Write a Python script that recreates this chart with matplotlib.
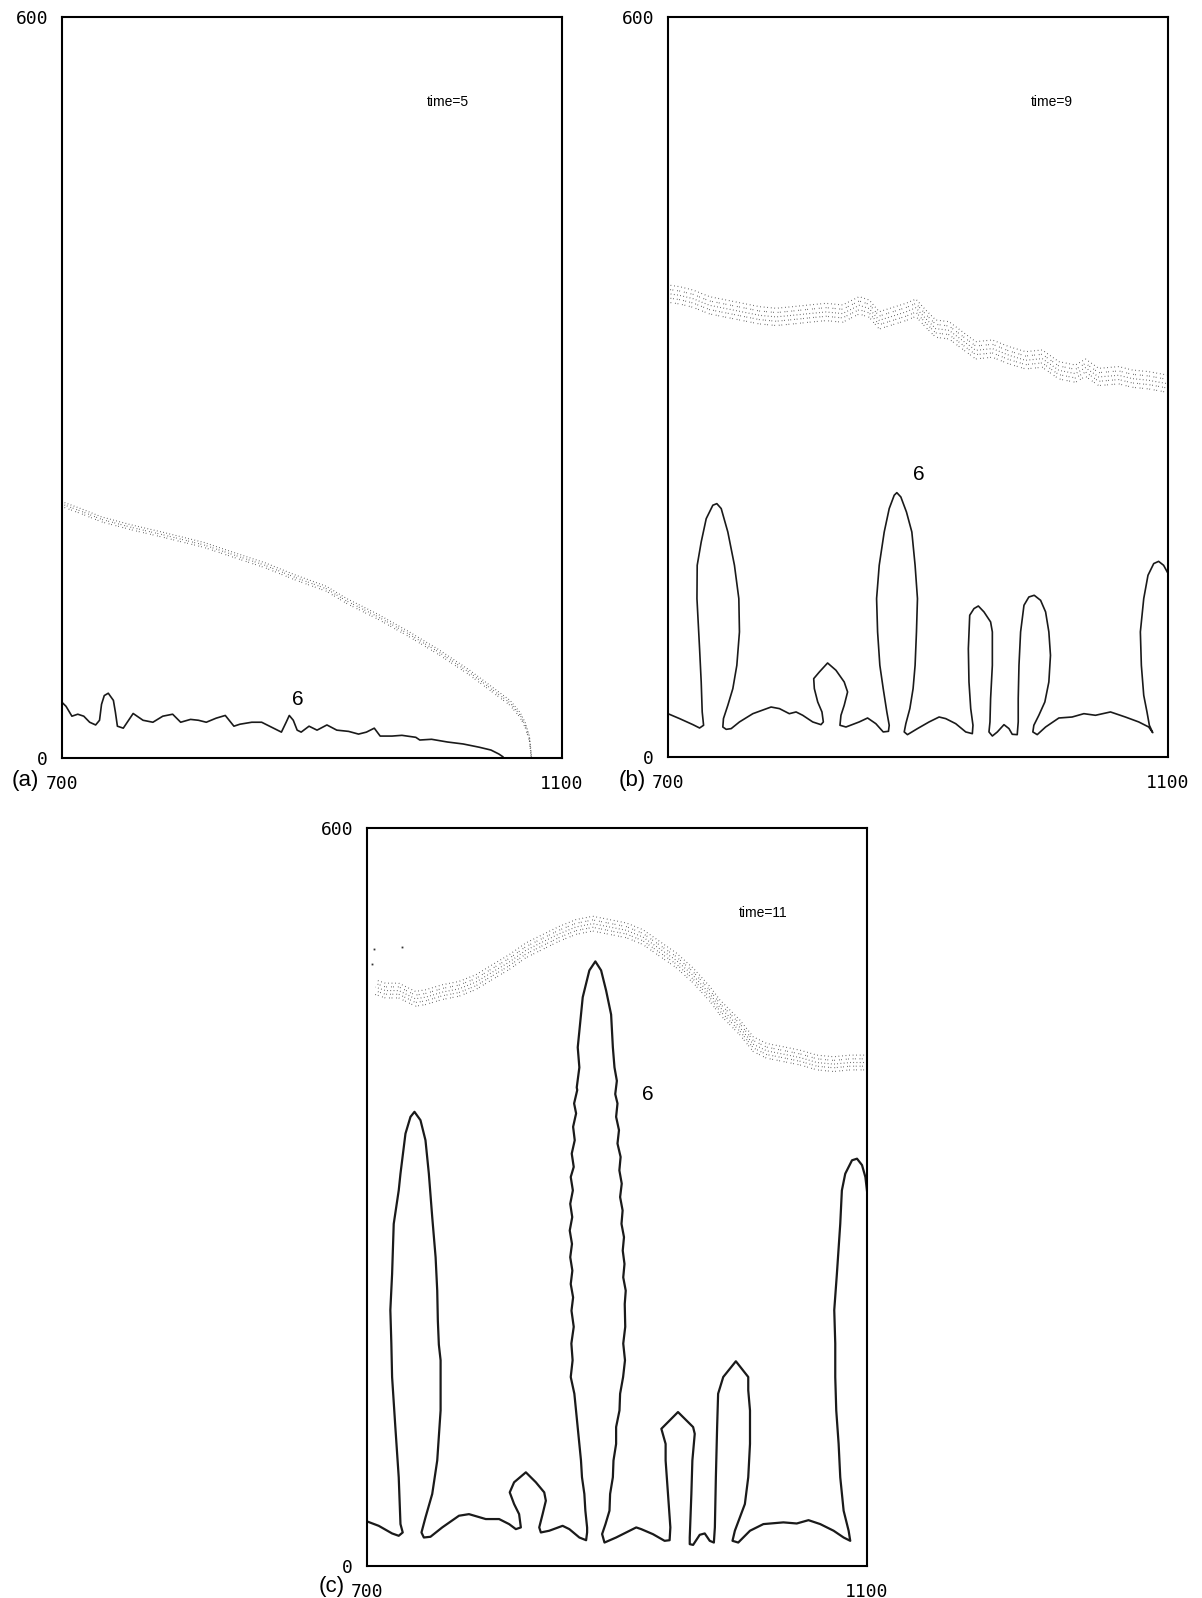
import numpy as np
import matplotlib.pyplot as plt

# ---- panel (a), time=5 ----
a_front_x = [700, 715.5, 731.8, 756.3, 780.8, 813.5, 838, 862.4, 886.9, 911.4, 927.8,
             952.2, 976.7, 1001.2, 1025.7, 1042, 1058.4, 1066.5, 1070.6, 1073.9, 1075.5]
a_front_y = [205.5, 199.7, 193.1, 186.5, 180.7, 172.5, 164.2, 156, 146, 137, 127,
             114.6, 100.7, 85.8, 69.3, 57, 44.6, 34.7, 26.4, 15.7, 0]
a_iface_x = [700, 703.2, 707.9, 712.6, 717.4, 722.1, 726.9, 730, 731.6, 733.8, 737, 741.1,
             742.7, 744.3, 749, 756.9, 764.8, 772.7, 780.6, 788.5, 794.9, 802.8, 809.1,
             815.4, 823.3, 830.6, 837.5, 842.3, 851.8, 859.7, 866, 875.5, 879.3, 881.8,
             885, 888.1, 891.3, 897.6, 904, 911.9, 919.8, 929.2, 937.2, 943.5, 949.8,
             954.5, 964, 971.9, 983, 986.2, 995.6, 1008.3, 1020.9, 1033.6, 1043.1,
             1049.4, 1052.6]
a_iface_y = [45, 41.8, 33.8, 35.4, 33.8, 28.9, 26.7, 30.5, 43.4, 50.5, 52.4, 46.6,
             37, 25.7, 24.1, 36, 30.5, 28.9, 33.8, 35.4, 28.9, 31.2, 30.5,
             28.9, 32.2, 34.4, 25.7, 27.3, 28.9, 28.9, 25.7, 20.9, 28.9, 34.4,
             30.5, 22.5, 20.9, 25.7, 22.5, 26.7, 22.5, 21.5, 19.3, 20.9, 24.1,
             17.7, 17.7, 18.3, 16.7, 14.5, 15.1, 12.9, 11.3, 8.7, 6.4,
             3.2, 1]

# ---- panel (b), time=9 ----
b_front_x = [700, 709.3, 720, 733.3, 746.6, 759.9, 773.2, 786.5, 799.8, 813.1, 826.4,
             839.7, 853, 861, 869, 879.6, 890.3, 898.3, 906.2, 914.2, 924.9, 935.5,
             946.2, 959.5, 972.8, 986.1, 999.4, 1012.7, 1026, 1034, 1044.6, 1060.6,
             1071.2, 1084.6, 1099.2]
b_front_y = [375.7, 374.3, 371.6, 366.2, 363.5, 360.8, 358.1, 356.8, 358.1, 359.5, 360.8,
             359.5, 366.2, 363.5, 354, 357.4, 360.8, 364.2, 355.4, 347.3, 345.9, 337.8,
             329.7, 331.1, 325.7, 321.6, 323, 313.5, 310.8, 315.6, 308.1, 309.5,
             306.8, 305.4, 302.7]
b_iface_x = [700, 709.3, 720, 725.3, 728.5, 727.4, 726.6, 725.3, 723.2, 723.4, 726.6,
             730.6, 735.9, 739.1, 742.6, 747.9, 753.2, 756.7, 757.2, 755.1, 751.9, 747.9,
             744.4, 743.9, 746.6, 750.6, 757.2, 767.9, 782.5, 789.2, 797.1, 802.5, 807.8,
             815.8, 822.4, 824.3, 823.2, 819.8, 817.1, 816.6, 821.1, 827.7, 834.4, 841,
             843.7, 841, 838.4, 837.6, 842.4, 853, 859.7, 866.3, 872.2, 876.4, 877,
             875.1, 872.2, 869.5, 867.7, 866.9, 869, 873, 877, 881, 883.1, 886.3, 890.8,
             895.1, 897.7, 899.6, 898.8, 897.7, 896.1, 893.5, 890.3, 889, 891.6, 899.6,
             908.9, 916.9, 922.2, 930.2, 938.2, 943.5, 944, 942.2, 940.8, 940.3, 941.4,
             944.8, 948.3, 952.8, 958.1, 959.5, 959.5, 958.1, 957.6, 956.8, 959.5, 963.5,
             968.8, 972.8, 975.4, 979.4, 980.2, 980.2, 980.8, 982.1, 984.8, 988.7, 993,
             998.1, 1002.1, 1004.7, 1006, 1004.7, 1001.5, 996.7, 992.7, 991.9, 995.4,
             1002.1, 1012.7, 1023.3, 1032.7, 1042, 1054, 1065.9, 1076.6, 1084.6, 1087.8,
             1085.1, 1083.2, 1080.6, 1078.7, 1077.9, 1080.6, 1084, 1088.6, 1092.5,
             1096.5, 1099.4]
b_iface_y = [35.1, 31.1, 26.2, 23.5, 25.7, 36.5, 60.8, 87.8, 128.4, 155.4, 174.3,
             193.2, 204.1, 205.4, 201.4, 182.4, 155.4, 128.4, 101.4, 74.3, 55.4, 41.9,
             31.1, 24.3, 22.4, 23, 28.4, 35.1, 40.5, 39.2, 35.1, 36.5, 33.8,
             28.4, 26.2, 28.4, 36.5, 44.6, 55.4, 63.5, 68.9, 76.2, 70.3, 60.8,
             52.7, 41.9, 33.8, 25.7, 24.3, 28.4, 31.6, 27, 20.3, 20.8, 25.7,
             36.5, 55.4, 74.3, 101.4, 128.4, 155.4, 182.4, 201.4, 212.2, 214.3, 210.8, 198.6,
             182.4, 155.4, 128.4, 101.4, 74.3, 55.4, 39.2, 27, 20.3, 18.1, 23,
             28.4, 32.4, 31.1, 27, 20.3, 18.9, 25.7, 39.2, 60.8, 87.8, 114.9,
             120.3, 122.4, 117.6, 109.5, 101.4, 74.3, 47.3, 28.4, 20.3, 17, 20.3,
             26.2, 23, 18.4, 18.1, 28.4, 47.3, 74.3, 101.4, 123, 129.7, 131.1,
             127, 117.6, 101.4, 82.4, 60.8, 44.6, 33.8, 25.7, 20.3, 18.1,
             24.3, 31.6, 32.4, 35.1, 33.8, 36.5, 32.4, 28.4, 24.3, 19.7,
             25.7, 36.5, 50, 74.3, 101.4, 128.4, 147.3, 156.8, 158.6,
             155.4, 150]

# ---- panel (c), time=11 ----
c_front_x = [706.7, 714.7, 725.4, 738.8, 746.8, 760.2, 773.6, 787, 800.3, 813.7, 827.1,
             840.5, 853.9, 867.2, 880.6, 894, 907.4, 920.7, 934.1, 947.5, 960.9, 974.2,
             982.3, 987.6, 998.3, 1009, 1019.7, 1033.1, 1046.5, 1059.9, 1073.3, 1086.6,
             1098.7]
c_front_y = [470.7, 467.9, 467.9, 461.2, 462.5, 466.6, 469.3, 474.7, 482.9, 491, 500.6,
             507.4, 514.1, 519.6, 522.3, 519.6, 516.9, 511.4, 501.9, 492.4, 480.2, 465.3,
             454.3, 448.9, 437.9, 424.3, 418.9, 416.2, 413.4, 409.4, 408.1, 409.4,
             409.4]
c_stray_x = [704, 705.3, 728]
c_stray_y = [489.7, 502, 503.3]

# interface in (c): left part, tall central finger (wavy sides), right part
c_left_x = [700, 709.4, 720.1, 725.4, 728.6, 726.8, 725.4, 722.7, 720.1, 719.5, 718.7,
            720.1, 721.4, 725.4, 726.8, 730.8, 734.8, 738, 742.8, 746.8, 749.5, 752.2,
            754.9, 756.2, 756.7, 757.5, 758.9, 758.9, 756.2, 752.2, 746.8, 743.6, 745.5,
            750.8, 760.2, 773.6, 781.6, 795, 805.7, 813.7, 819.1, 823.1, 821.7, 817.7,
            814.2, 817.7, 827.1, 835.1, 841.8, 843.1, 840.5, 837.8, 839.1, 845.8, 856.5,
            861.9, 869.9, 875.3]
c_left_y = [36.3, 32.7, 26.5, 24.6, 27.3, 34.1, 72.2, 112.9, 153.7, 180.9, 208.1,
            237.4, 278.2, 305.4, 319, 351.6, 365.2, 369.3, 362.5, 346.2, 319, 283.7,
            251.1, 223.9, 199.4, 180, 167.3, 126.5, 85.8, 58.6, 39.5, 27.3, 23.2,
            23.8, 31.4, 40.9, 42.2, 38.2, 38.2, 34.1, 30, 31.4, 42.2, 50.4,
            59.9, 68.1, 76.2, 68.1, 59.9, 53.1, 42.2, 31.4, 27.3, 28.7, 32.7,
            30, 23.2, 21]
c_mid_x = [876.1, 876.1, 874.7, 873.9, 872, 871.2, 869.9, 868.6, 867.2, 865.9, 863,
           864.5, 863.5, 865.4, 863.6, 864.9, 863, 864.3, 862.6, 864, 862.2, 864.2,
           862.6, 864.7, 863, 865.4, 863.8, 866.2, 864.9, 867.3, 865.7, 868.2, 867.8,
           869.9, 868.6, 869.9, 872.6, 877.9, 882.7, 887.3, 891.3, 895.3, 896.7, 898,
           899.9, 898.6, 900.4, 899.3, 901.6, 900.4, 902.9, 901.9, 903.8, 902.5, 904.5,
           903.6, 905.6, 904.6, 906, 905, 907, 906.2, 906.6, 905, 906.4, 904.9,
           902.5, 902, 899.3, 899.3, 897.2, 896.7, 894.5, 894, 890.8, 888.1, 890]
c_mid_y = [27.3, 31.3, 45, 58.6, 72.2, 85.8, 99.3, 113, 126.5, 140.1, 153.7,
           167.3, 180.9, 194.5, 207.6, 218.4, 229.3, 240.2, 251.1, 261.9, 272.8, 283.7,
           294.5, 305.4, 316.3, 324.5, 335.3, 346.2, 357.1, 368, 376.1, 387, 389.1,
           405.4, 421.7, 435.1, 462.5, 484.3, 491.6, 484.3, 467.9, 448.4, 421.7, 405.4,
           394.5, 383.7, 376.1, 365.2, 354.4, 343.5, 332.6, 321.7, 310.9, 300, 289.1,
           278.2, 267.4, 256.5, 245.6, 234.7, 223.9, 213, 194.5, 180.9, 167.3, 153.7,
           140.1, 126.5, 113, 99.3, 85.8, 72.2, 58.6, 45, 34.1, 26, 19.1]
c_right_x = [899.3, 907.4, 915.4, 919.4, 928.8, 938.1, 942.1, 942.7, 940.8, 938.9, 938.9,
             935.5, 948.8, 960.9, 962.2, 960.3, 959.5, 958.2, 958.2, 960.9, 966.2, 970.2,
             974.2, 977.5, 978.3, 979.1, 980.1, 980.9, 985, 995.1, 1005, 1005, 1006.4,
             1006.4, 1005, 1002.3, 998.3, 994.3, 992.4, 997, 1006.4, 1017.1, 1033.1,
             1043.8, 1053.2, 1062.6, 1073.3, 1081.3, 1086.6, 1085.3, 1081.3, 1078.6,
             1077.3, 1075.4, 1074.6, 1074.6, 1073.8, 1075.9, 1078.6, 1079.9, 1082.6,
             1088, 1092, 1096, 1098.7, 1100]
c_right_y = [23.2, 27.3, 31.4, 30, 25.9, 20.5, 21, 31.4, 58.6, 85.8, 99.3,
             111.6, 125.2, 113, 107.5, 85.8, 58.6, 23.2, 17.8, 17.2, 25.4, 26.5,
             20.5, 19.1, 31.4, 72.2, 112.9, 140.1, 153.7, 166.5, 153.7, 142.9, 126.5,
             99.3, 72.2, 50.4, 39.5, 28.7, 20.5, 19.1, 28.7, 34.1, 35.5,
             34.6, 37.3, 34.1, 28.7, 23.2, 20.5, 28.7, 45, 72.2,
             99.3, 126.5, 153.7, 180.9, 208.1, 237.4, 278.2, 305.4, 319,
             329.9, 331.2, 326, 316.3, 305]
c_iface_x = c_left_x + c_mid_x + c_right_x
c_iface_y = c_left_y + c_mid_y + c_right_y

panels = [
    dict(rect=[0.0516, 0.5257, 0.4160, 0.4637], tag='(a)', tag_xy=(0.0212, 0.5113),
         time='time=5', time_xy=(1009, 531), six_xy=(889, 47),
         front=(a_front_x, a_front_y), iface=(a_iface_x, a_iface_y),
         band=[-2, 0, 2], lw=1.2, stray=None),
    dict(rect=[0.5557, 0.5263, 0.4160, 0.4631], tag='(b)', tag_xy=(0.5258, 0.5113),
         time='time=9', time_xy=(1007, 531), six_xy=(901, 229),
         front=(b_front_x, b_front_y), iface=(b_iface_x, b_iface_y),
         band=[-7, -3.5, 0, 3.5, 7], lw=1.2, stray=None),
    dict(rect=[0.3053, 0.0200, 0.4160, 0.4618], tag='(c)', tag_xy=(0.2762, 0.0075),
         time='time=11', time_xy=(1017, 531), six_xy=(925, 383),
         front=(c_front_x, c_front_y), iface=(c_iface_x, c_iface_y),
         band=[-6, -3, 0, 3, 6], lw=1.6, stray=(c_stray_x, c_stray_y)),
]

dash_styles = [(0, (0.6, 1.8, 0.6, 3.4)), (1.1, (0.6, 2.9, 0.6, 1.6)),
               (0.4, (0.6, 2.3)), (2.0, (0.6, 3.6, 0.6, 1.4)), (0.8, (0.6, 2.6))]

fig = plt.figure(figsize=(12.02, 15.98), dpi=100)

for p in panels:
    ax = fig.add_axes(p['rect'])
    ax.set_xlim(700, 1100)
    ax.set_ylim(0, 600)

    # scattered particle front, drawn as a thin speckled band
    fx, fy = p['front']
    fy = np.array(fy)
    for k, dy in enumerate(p['band']):
        ax.plot(fx, fy + dy, color='0.2', lw=0.8, linestyle=dash_styles[k % 5])
    if p['stray'] is not None:
        ax.plot(p['stray'][0], p['stray'][1], 's', color='0.2', ms=1.3, mew=0)

    ix, iy = p['iface']
    ax.plot(ix, iy, color='#1a1a1a', lw=p['lw'])

    ax.text(p['time_xy'][0], p['time_xy'][1], p['time'], fontsize=10,
            family='Liberation Sans', ha='center', va='center')
    ax.text(p['six_xy'][0], p['six_xy'][1], '6', fontsize=15,
            family='Liberation Sans', ha='center', va='center')

    ax.set_xticks([700, 1100])
    ax.set_yticks([0, 600])
    ax.set_xticklabels(['700', '1100'], family='DejaVu Sans Mono', fontsize=13)
    ax.set_yticklabels(['0', '600'], family='DejaVu Sans Mono', fontsize=13)
    ax.tick_params(length=0, pad=10)
    ax.tick_params(axis='x', pad=12)
    for s in ax.spines.values():
        s.set_linewidth(1.5)
        s.set_color('black')

    fig.text(p['tag_xy'][0], p['tag_xy'][1], p['tag'], fontsize=16,
             family='Liberation Sans', ha='center', va='center')

fig.savefig('out.png', dpi=100)
